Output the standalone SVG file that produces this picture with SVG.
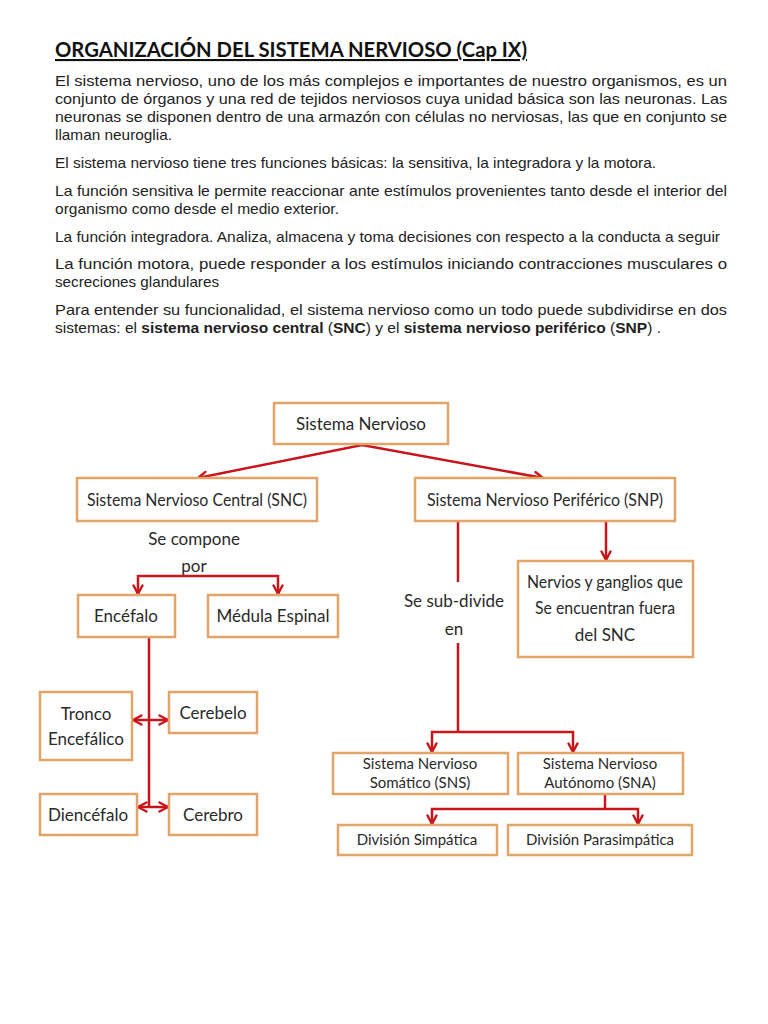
<svg xmlns="http://www.w3.org/2000/svg" width="768" height="1024" viewBox="0 0 768 1024">
<defs>
<style>
.body{font-family:"Liberation Sans",Arial,sans-serif;font-size:15px;fill:#222}
.title{font-family:Lato,"Liberation Sans",sans-serif;font-size:21px;font-weight:bold;fill:#111}
.box{fill:#fff;stroke:#E3A468;stroke-width:2.5}
.lbl{font-family:Lato,"Open Sans",sans-serif;font-size:17px;fill:#2a2a2a;text-anchor:middle}
.sm{font-size:15px}
.con{fill:none;stroke:#C8151B;stroke-width:2.5}
</style>
<marker id="ah" viewBox="0 0 12 12" refX="10.5" refY="6" markerWidth="12" markerHeight="12" orient="auto-start-reverse" markerUnits="userSpaceOnUse">
<path d="M2,1.5 L10.5,6 L2,10.5" fill="none" stroke="#C8151B" stroke-width="2.4" stroke-linecap="round" stroke-linejoin="round"/>
</marker>
</defs>
<rect width="768" height="1024" fill="#fff"/>

<g id="text">
<text class="title" x="55" y="57" textLength="472" lengthAdjust="spacingAndGlyphs" text-decoration="underline">ORGANIZACIÓN DEL SISTEMA NERVIOSO (Cap IX)</text>
<text class="body" x="55" y="86" textLength="672" lengthAdjust="spacingAndGlyphs">El sistema nervioso, uno de los más complejos e importantes de nuestro organismos, es un</text>
<text class="body" x="55" y="104" textLength="672" lengthAdjust="spacingAndGlyphs">conjunto de órganos y una red de tejidos nerviosos cuya unidad básica son las neuronas. Las</text>
<text class="body" x="55" y="122" textLength="672" lengthAdjust="spacingAndGlyphs">neuronas se disponen dentro de una armazón con células no nerviosas, las que en conjunto se</text>
<text class="body" x="55" y="140" textLength="117" lengthAdjust="spacingAndGlyphs">llaman neuroglia.</text>
<text class="body" x="55" y="168" textLength="601" lengthAdjust="spacingAndGlyphs">El sistema nervioso tiene tres funciones básicas: la sensitiva, la integradora y la motora.</text>
<text class="body" x="55" y="196" textLength="672" lengthAdjust="spacingAndGlyphs">La función sensitiva le permite reaccionar ante estímulos provenientes tanto desde el interior del</text>
<text class="body" x="55" y="214" textLength="284" lengthAdjust="spacingAndGlyphs">organismo como desde el medio exterior.</text>
<text class="body" x="55" y="242" textLength="665" lengthAdjust="spacingAndGlyphs">La función integradora. Analiza, almacena y toma decisiones con respecto a la conducta a seguir</text>
<text class="body" x="55" y="269" textLength="672" lengthAdjust="spacingAndGlyphs">La función motora, puede responder a los estímulos iniciando contracciones musculares o</text>
<text class="body" x="55" y="287" textLength="164" lengthAdjust="spacingAndGlyphs">secreciones glandulares</text>
<text class="body" x="55" y="315" textLength="672" lengthAdjust="spacingAndGlyphs">Para entender su funcionalidad, el sistema nervioso como un todo puede subdividirse en dos</text>
<text class="body" x="55" y="333" textLength="606" lengthAdjust="spacingAndGlyphs">sistemas: el <tspan font-weight="bold">sistema nervioso central</tspan> (<tspan font-weight="bold">SNC</tspan>) y el <tspan font-weight="bold">sistema nervioso periférico</tspan> (<tspan font-weight="bold">SNP</tspan>) .</text>
</g>

<g id="connectors">
<polyline class="con" points="198,478 362,445 543,478" marker-start="url(#ah)" marker-end="url(#ah)"/>
<polyline class="con" points="138,594 138,576 278,576 278,594" marker-start="url(#ah)" marker-end="url(#ah)"/>
<line class="con" x1="606" y1="521" x2="606" y2="560" marker-end="url(#ah)"/>
<line class="con" x1="458" y1="521" x2="458" y2="582"/>
<line class="con" x1="458" y1="643" x2="458" y2="732"/>
<polyline class="con" points="432,752 432,732 573,732 573,752" marker-start="url(#ah)" marker-end="url(#ah)"/>
<line class="con" x1="605" y1="794" x2="605" y2="809"/>
<polyline class="con" points="432,824 432,809 638,809 638,824" marker-start="url(#ah)" marker-end="url(#ah)"/>
<line class="con" x1="149" y1="637" x2="149" y2="808"/>
<line class="con" x1="133" y1="720" x2="168" y2="720" marker-start="url(#ah)" marker-end="url(#ah)"/>
<line class="con" x1="138" y1="807" x2="168" y2="807" marker-start="url(#ah)" marker-end="url(#ah)"/>
<text class="lbl" x="194" y="545">Se compone</text>
<text class="lbl" x="194" y="572">por</text>
<text class="lbl" x="454" y="607">Se sub-divide</text>
<text class="lbl" x="454" y="635">en</text>
</g>

<g id="n-sn"><rect class="box" x="274" y="403" width="174" height="41"/><text class="lbl" x="361" y="430">Sistema Nervioso</text></g>
<g id="n-snc"><rect class="box" x="77" y="478" width="240" height="43"/><text class="lbl" x="197" y="506" textLength="220" lengthAdjust="spacingAndGlyphs">Sistema Nervioso Central (SNC)</text></g>
<g id="n-snp"><rect class="box" x="415" y="478" width="260" height="43"/><text class="lbl" x="545" y="506" textLength="236" lengthAdjust="spacingAndGlyphs">Sistema Nervioso Periférico (SNP)</text></g>
<g id="n-encefalo"><rect class="box" x="78" y="595" width="97" height="42"/><text class="lbl" x="126" y="622">Encéfalo</text></g>
<g id="n-medula"><rect class="box" x="208" y="595" width="130" height="42"/><text class="lbl" x="273" y="622">Médula Espinal</text></g>
<g id="n-nervios"><rect class="box" x="518" y="561" width="175" height="96"/><text class="lbl" x="605" y="588" textLength="156" lengthAdjust="spacingAndGlyphs">Nervios y ganglios que</text><text class="lbl" x="605" y="614" textLength="140" lengthAdjust="spacingAndGlyphs">Se encuentran fuera</text><text class="lbl" x="605" y="641">del SNC</text></g>
<g id="n-tronco"><rect class="box" x="40" y="692" width="92" height="68"/><text class="lbl" x="86" y="720">Tronco</text><text class="lbl" x="86" y="745">Encefálico</text></g>
<g id="n-cerebelo"><rect class="box" x="169" y="692" width="88" height="41"/><text class="lbl" x="213" y="719">Cerebelo</text></g>
<g id="n-diencefalo"><rect class="box" x="40" y="794" width="97" height="41"/><text class="lbl" x="88" y="821">Diencéfalo</text></g>
<g id="n-cerebro"><rect class="box" x="169" y="794" width="88" height="41"/><text class="lbl" x="213" y="821">Cerebro</text></g>
<g id="n-sns"><rect class="box" x="333" y="753" width="175" height="41"/><text class="lbl sm" x="420" y="769">Sistema Nervioso</text><text class="lbl sm" x="420" y="788">Somático (SNS)</text></g>
<g id="n-sna"><rect class="box" x="518" y="753" width="165" height="41"/><text class="lbl sm" x="600" y="769">Sistema Nervioso</text><text class="lbl sm" x="600" y="788">Autónomo (SNA)</text></g>
<g id="n-simpatica"><rect class="box" x="338" y="825" width="159" height="30"/><text class="lbl sm" x="417" y="845">División Simpática</text></g>
<g id="n-parasimpatica"><rect class="box" x="508" y="825" width="184" height="30"/><text class="lbl sm" x="600" y="845">División Parasimpática</text></g>
</svg>
